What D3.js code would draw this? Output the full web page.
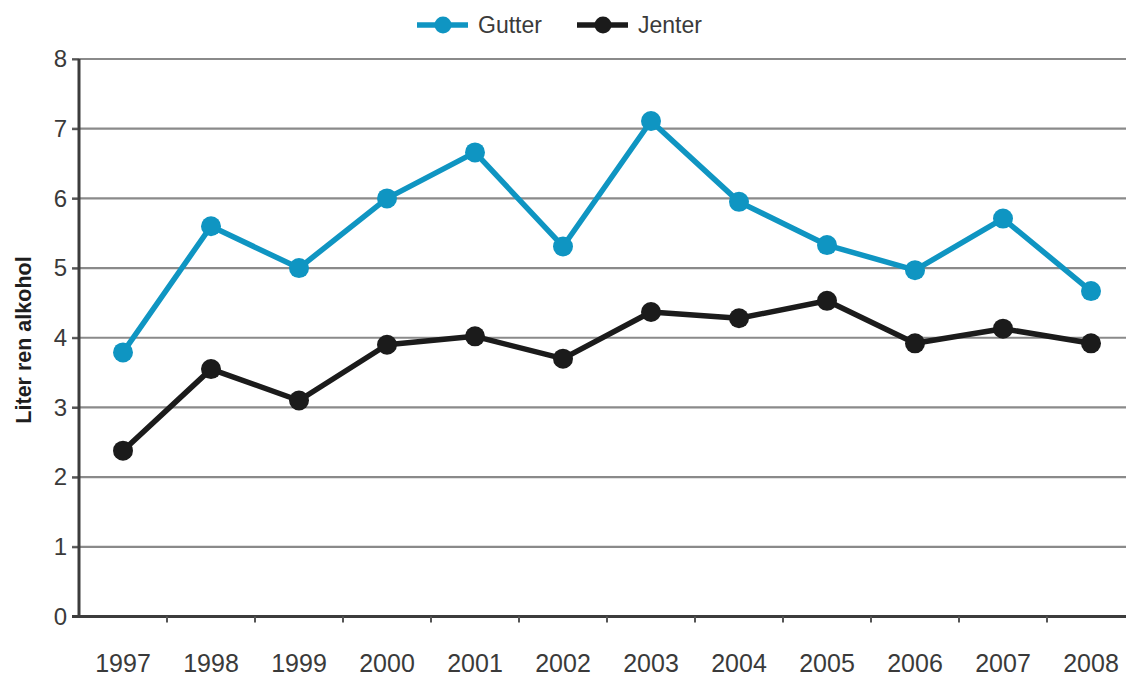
<!DOCTYPE html>
<html>
<head>
<meta charset="utf-8">
<script src="https://cdn.jsdelivr.net/npm/d3@7"></script>
<style>
  html, body { margin: 0; padding: 0; background: #fff; }
  svg { display: block; }
</style>
</head>
<body>
<svg id="chart" width="1126" height="675"></svg>
<script>
// Litres of pure alcohol per year, boys and girls
const years = ["1997","1998","1999","2000","2001","2002","2003","2004","2005","2006","2007","2008"];
const gutter = [3.79, 5.60, 5.00, 6.00, 6.66, 5.31, 7.11, 5.95, 5.33, 4.97, 5.71, 4.67];
const jenter = [2.38, 3.55, 3.10, 3.90, 4.02, 3.70, 4.37, 4.28, 4.53, 3.92, 4.13, 3.92];
const yTicks = [0, 1, 2, 3, 4, 5, 6, 7, 8];
const seriesNames = ["Gutter", "Jenter"];
const seriesColors = ["#0f95c2", "#1b1b1b"];

const svg = d3.select("#chart");
const font = "'Liberation Sans', Arial, sans-serif";

const plotLeft = 79, plotTop = 59, plotBottom = 616.5;
const bandW = 88;

const x = d3.scaleBand().domain(years).range([plotLeft, plotLeft + bandW * years.length]).paddingInner(0).paddingOuter(0);
const y = d3.scaleLinear().domain([0, 8]).range([plotBottom, plotTop]);

// horizontal gridlines (extend a little left of the axis, acting as ticks)
svg.append("g")
  .selectAll("line")
  .data(yTicks.filter(d => d > 0))
  .join("line")
  .attr("x1", plotLeft - 7).attr("x2", 1126)
  .attr("y1", d => y(d)).attr("y2", d => y(d))
  .attr("stroke", "#8a8a8a").attr("stroke-width", 2.2);

// y axis
const yAxis = d3.axisLeft(y).tickValues(yTicks).tickSize(7).tickPadding(5).tickFormat(d3.format("d"));
const gy = svg.append("g").attr("transform", `translate(${plotLeft},0)`).call(yAxis);
gy.select(".domain").remove();
gy.selectAll(".tick line").attr("stroke", "#555").attr("stroke-width", 2);
gy.selectAll(".tick text")
  .attr("font-family", font).attr("font-size", 24).attr("fill", "#3a3a3a");

// x axis with ticks at band boundaries
const gx = svg.append("g").attr("transform", `translate(0,${plotBottom})`);
gx.append("line")
  .attr("x1", plotLeft - 7).attr("x2", 1126)
  .attr("stroke", "#3c3c3c").attr("stroke-width", 3);
gx.selectAll("line.tk")
  .data(years.slice(1))
  .join("line").attr("class", "tk")
  .attr("x1", d => x(d)).attr("x2", d => x(d))
  .attr("y1", 0).attr("y2", 6)
  .attr("stroke", "#555").attr("stroke-width", 2);
gx.selectAll("text")
  .data(years)
  .join("text")
  .attr("x", d => x(d) + x.bandwidth() / 2)
  .attr("y", 55)
  .attr("text-anchor", "middle")
  .attr("font-family", font).attr("font-size", 25).attr("fill", "#3a3a3a")
  .text(d => d);

// left axis line
svg.append("line")
  .attr("x1", plotLeft).attr("x2", plotLeft)
  .attr("y1", plotTop).attr("y2", plotBottom + 1.5)
  .attr("stroke", "#3c3c3c").attr("stroke-width", 3);

// y axis title
svg.append("text")
  .attr("transform", `translate(31,340) rotate(-90)`)
  .attr("text-anchor", "middle")
  .attr("font-family", "'Liberation Sans Narrow', 'Liberation Sans', Arial, sans-serif")
  .attr("font-weight", "bold").attr("font-size", 21.5).attr("fill", "#1e1e1e")
  .text("Liter ren alkohol");

// series lines and markers
const line = d3.line()
  .x((d, i) => x(years[i]) + x.bandwidth() / 2)
  .y(d => y(d));

[gutter, jenter].forEach((vals, s) => {
  svg.append("path")
    .datum(vals)
    .attr("d", line)
    .attr("fill", "none")
    .attr("stroke", seriesColors[s])
    .attr("stroke-width", 5.5)
    .attr("stroke-linejoin", "round");
  svg.append("g")
    .selectAll("circle")
    .data(vals)
    .join("circle")
    .attr("cx", (d, i) => x(years[i]) + x.bandwidth() / 2)
    .attr("cy", d => y(d))
    .attr("r", 10)
    .attr("fill", seriesColors[s]);
});

// legend
const legendItems = [
  { name: seriesNames[0], color: seriesColors[0], x0: 417 },
  { name: seriesNames[1], color: seriesColors[1], x0: 577 }
];
const lg = svg.append("g");
legendItems.forEach(it => {
  lg.append("line")
    .attr("x1", it.x0).attr("x2", it.x0 + 51)
    .attr("y1", 25).attr("y2", 25)
    .attr("stroke", it.color).attr("stroke-width", 5.5);
  lg.append("circle")
    .attr("cx", it.x0 + 26).attr("cy", 25).attr("r", 8.5)
    .attr("fill", it.color);
  lg.append("text")
    .attr("x", it.x0 + 61).attr("y", 33)
    .attr("font-family", font).attr("font-size", 23).attr("fill", "#3a3a3a")
    .text(it.name);
});
</script>
</body>
</html>
